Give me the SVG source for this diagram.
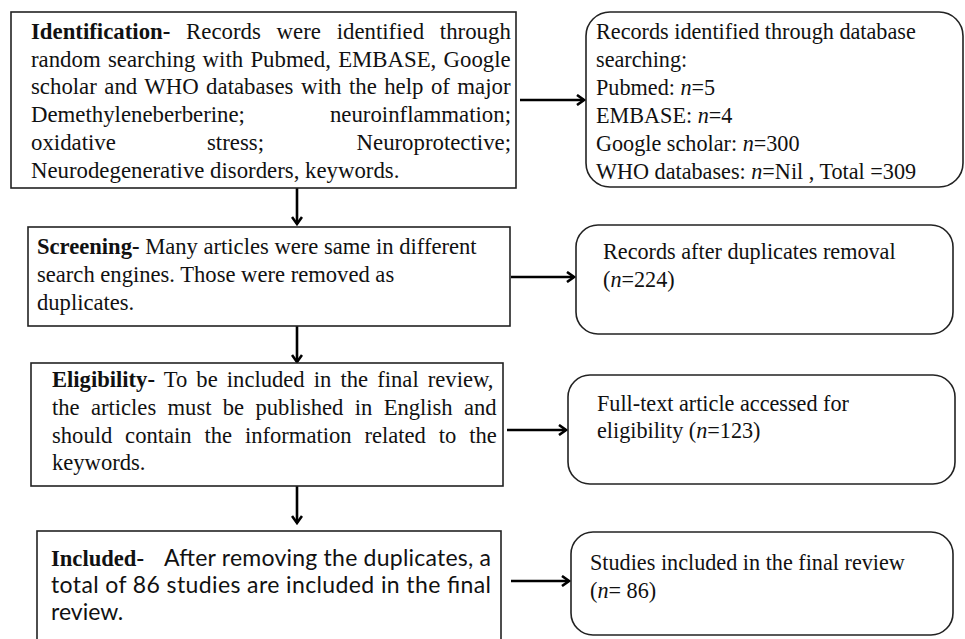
<svg xmlns="http://www.w3.org/2000/svg" width="965" height="639" viewBox="0 0 965 639">
<defs>
<style>
.box{fill:#fff;stroke:#222;stroke-width:1.6}
.t{font-family:"Liberation Serif","Times New Roman",serif;font-size:22.6px;fill:#111}
.t1{font-family:"Liberation Serif","Times New Roman",serif;font-size:22.8px;fill:#111}
.r{font-family:"Liberation Serif","Times New Roman",serif;font-size:22.2px;fill:#111}
.b{font-weight:bold}
.s{font-family:Lato,"Open Sans",sans-serif;font-size:23px;fill:#111}
.c{stroke:#000;stroke-width:2.6;fill:none}
</style>
<marker id="ah" markerWidth="12" markerHeight="12" refX="10" refY="6" orient="auto" markerUnits="userSpaceOnUse">
<path d="M3,1 L10,6 L3,11" fill="none" stroke="#000" stroke-width="2.6" stroke-linejoin="miter"/>
</marker>
</defs>
<rect width="965" height="639" fill="#fff"/>
<g id="connectors">
<line class="c" x1="520" y1="100" x2="584" y2="100" marker-end="url(#ah)"/>
<line class="c" x1="297" y1="188" x2="297" y2="224" marker-end="url(#ah)"/>
<line class="c" x1="511" y1="277" x2="574" y2="277" marker-end="url(#ah)"/>
<line class="c" x1="297" y1="326" x2="297" y2="362" marker-end="url(#ah)"/>
<line class="c" x1="507" y1="430" x2="566" y2="430" marker-end="url(#ah)"/>
<line class="c" x1="297" y1="486" x2="297" y2="523" marker-end="url(#ah)"/>
<line class="c" x1="511" y1="581" x2="569" y2="581" marker-end="url(#ah)"/>
</g>
<g id="identification">
<rect class="box" x="11" y="12" width="505" height="176"/>
<text class="t1" x="31" y="39" word-spacing="10.1"><tspan class="b">Identification-</tspan> Records were identified through</text>
<text class="t1" x="31" y="67" word-spacing="1.6">random searching with Pubmed, EMBASE, Google</text>
<text class="t1" x="31" y="94" word-spacing="1.75">scholar and WHO databases with the help of major</text>
<text class="t1" x="31" y="122">Demethyleneberberine;</text>
<text class="t1" x="511" y="122" text-anchor="end">neuroinflammation;</text>
<text class="t1" x="31" y="150">oxidative</text>
<text class="t1" x="207" y="150">stress;</text>
<text class="t1" x="511" y="150" text-anchor="end">Neuroprotective;</text>
<text class="t1" x="31" y="178">Neurodegenerative disorders, keywords.</text>
</g>
<g id="records-identified">
<rect class="box" x="586" y="12" width="377" height="175" rx="24"/>
<text class="r" x="596" y="39">Records identified through database</text>
<text class="r" x="596" y="67">searching:</text>
<text class="r" x="596" y="95">Pubmed: <tspan font-style="italic">n</tspan>=5</text>
<text class="r" x="596" y="123">EMBASE: <tspan font-style="italic">n</tspan>=4</text>
<text class="r" x="596" y="151">Google scholar: <tspan font-style="italic">n</tspan>=300</text>
<text class="r" x="596" y="179">WHO databases: <tspan font-style="italic">n</tspan>=Nil , Total =309</text>
</g>
<g id="screening">
<rect class="box" x="28" y="227" width="482" height="99"/>
<text class="t" x="37" y="254"><tspan class="b">Screening-</tspan> Many articles were same in different</text>
<text class="t" x="37" y="282">search engines. Those were removed as</text>
<text class="t" x="37" y="310">duplicates.</text>
</g>
<g id="records-after">
<rect class="box" x="576" y="225" width="377" height="109" rx="22"/>
<text class="r" x="603" y="259">Records after duplicates removal</text>
<text class="r" x="603" y="287">(<tspan font-style="italic">n</tspan>=224)</text>
</g>
<g id="eligibility">
<rect class="box" x="31" y="363" width="472" height="123"/>
<text class="t" x="52" y="387" word-spacing="3.5"><tspan class="b">Eligibility-</tspan> To be included in the final review,</text>
<text class="t" x="52" y="415" word-spacing="5.7">the articles must be published in English and</text>
<text class="t" x="52" y="443" word-spacing="7.2">should contain the information related to the</text>
<text class="t" x="52" y="470">keywords.</text>
</g>
<g id="full-text">
<rect class="box" x="568" y="375" width="387" height="109" rx="22"/>
<text class="r" x="597" y="411">Full-text article accessed for</text>
<text class="r" x="597" y="438">eligibility (<tspan font-style="italic">n</tspan>=123)</text>
</g>
<g id="included">
<rect class="box" x="37" y="531" width="464" height="120"/>
<text class="t b" x="51" y="566">Included-</text>
<text class="s" x="164" y="566" textLength="327" lengthAdjust="spacing">After removing the duplicates, a</text>
<text class="s" x="51" y="593" textLength="440" lengthAdjust="spacing">total of 86 studies are included in the final</text>
<text class="s" x="51" y="620">review.</text>
</g>
<g id="studies-included">
<rect class="box" x="571" y="532" width="382" height="103" rx="22"/>
<text class="r" x="590" y="570">Studies included in the final review</text>
<text class="r" x="590" y="598">(<tspan font-style="italic">n</tspan>= 86)</text>
</g>
</svg>
